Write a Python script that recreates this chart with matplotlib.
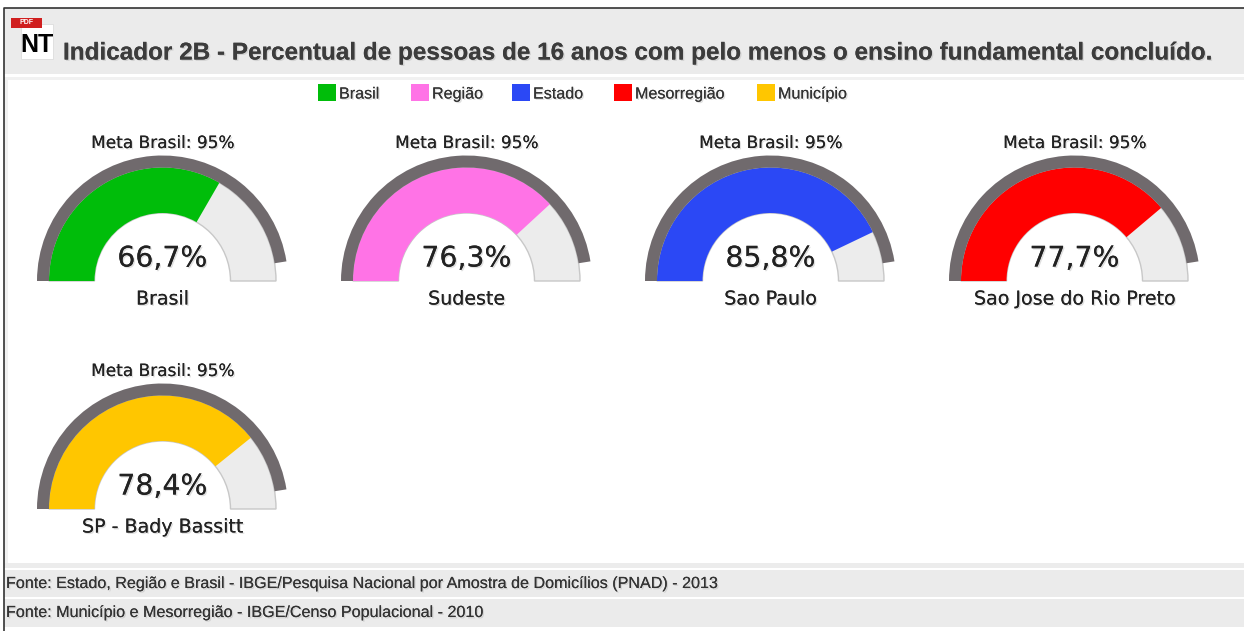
"""gauges for indicador 2B"""

import matplotlib as mpl
mpl.use('Agg')
import matplotlib.pyplot as plt
import matplotlib.patheffects as pe
from matplotlib.patches import Wedge, Rectangle

names = ['Brasil', 'Sudeste', 'Sao Paulo', 'Sao Jose do Rio Preto', 'SP - Bady Bassitt']
values = [66.7, 76.3, 85.8, 77.7, 78.4]
colors = ['#00bd0a', '#ff73e6', '#2b48f5', '#ff0000', '#ffc600']
meta = 95

legend_names = ['Brasil', 'Região', 'Estado', 'Mesorregião', 'Município']
legend_x = [318, 411, 512, 614, 757]

title = 'Indicador 2B - Percentual de pessoas de 16 anos com pelo menos o ensino fundamental concluído.'
fontes = ['Fonte: Estado, Região e Brasil - IBGE/Pesquisa Nacional por Amostra de Domicílios (PNAD) - 2013',
          'Fonte: Município e Mesorregião - IBGE/Censo Populacional - 2010']

H = 631
shadow = [pe.withSimplePatchShadow(offset=(1, -1), shadow_rgbFace='#999999', alpha=0.3), pe.Normal()]


def Y(y) :
    return H - y


def box(ax, x0, y0, x1, y1, **kwargs) :
    kwargs.setdefault('linewidth', 0)
    ax.add_patch(Rectangle((x0, Y(y1)), x1 - x0, y1 - y0, **kwargs))


def gauge(ax, cx, base, name, value, color) :
    cy = Y(base)
    angle = 180 * (1 - value / 100)
    ax.add_patch(Wedge((cx, cy), 113.5, 0, 180, width=45.5, facecolor='#ececec', edgecolor='#c8c8c8', linewidth=1))
    ax.add_patch(Wedge((cx, cy), 113.5, angle, 180, width=45.5, facecolor=color, linewidth=0))
    ax.add_patch(Wedge((cx, cy), 125.5, 180 * (1 - meta / 100), 180, width=12, facecolor='#706a6d', linewidth=0))
    ax.text(cx, cy + 138, 'Meta Brasil: %d%%' % meta, ha='center', va='center', fontsize=12.2,
            color='#222222', path_effects=shadow)
    ax.text(cx, cy + 22.5, ('%.1f%%' % value).replace('.', ','), ha='center', va='center', fontsize=20.4,
            color='#222222', path_effects=shadow)
    ax.text(cx, cy - 18, name, ha='center', va='center', fontsize=13.7,
            color='#222222', path_effects=shadow)


def main() :
    plt.rcParams['font.family'] = ['DejaVu Sans']
    fig = plt.figure(figsize=(12.44, 6.31), dpi=100)
    ax = fig.add_axes([0, 0, 1, 1])
    ax.set_xlim(0, 1244)
    ax.set_ylim(0, H)
    ax.axis('off')

    # grey bands
    box(ax, 4, 8, 1244, 74, facecolor='#ebebeb')
    box(ax, 4, 77, 1244, 80, facecolor='#f1f1f1')
    box(ax, 4, 80, 8, 563, facecolor='#f1f1f1')
    box(ax, 4, 563, 1244, 568, facecolor='#ececec')
    box(ax, 4, 570, 1244, 597, facecolor='#ebebeb')
    box(ax, 4, 599, 1244, 627, facecolor='#ebebeb')

    # frame, only top and left in the screenshot
    ax.plot([1244, 3.5, 3.5], [Y(7.5), Y(7.5), 0], color='#333333', linewidth=1.2)

    # icon
    box(ax, 21, 24, 53, 59, facecolor='white', edgecolor='#dddddd', linewidth=0.6)
    box(ax, 11, 18, 42, 28, facecolor='#d01f1f')
    ax.text(26, Y(23), 'PDF', ha='center', va='center', fontsize=5, fontweight='bold', color='white',
            family='Liberation Sans')
    ax.text(37, Y(45), 'NT', ha='center', va='center', fontsize=18, fontweight='bold', color='black',
            family='Liberation Sans')

    ax.text(63, Y(53), title, ha='left', va='center', fontsize=17.5, fontweight='bold', color='#3c3c3c',
            family='Liberation Sans', path_effects=shadow)

    for x, name, color in zip(legend_x, legend_names, colors) :
        box(ax, x, 84, x + 18, 101, facecolor=color)
        ax.text(x + 21, Y(94), name, ha='left', va='center', fontsize=11.6, color='#333333',
                family='Liberation Sans', path_effects=shadow)

    for i, (name, value, color) in enumerate(zip(names, values, colors)) :
        gauge(ax, 162.5 + 304 * (i % 4), 281 + 228 * (i // 4), name, value, color)

    for y, txt in zip([583.5, 612.5], fontes) :
        ax.text(6, Y(y), txt, ha='left', va='center', fontsize=11.6, color='#333333',
                family='Liberation Sans', path_effects=shadow)

    fig.savefig('out.png', dpi=100)


if __name__ == '__main__' :
    main()
